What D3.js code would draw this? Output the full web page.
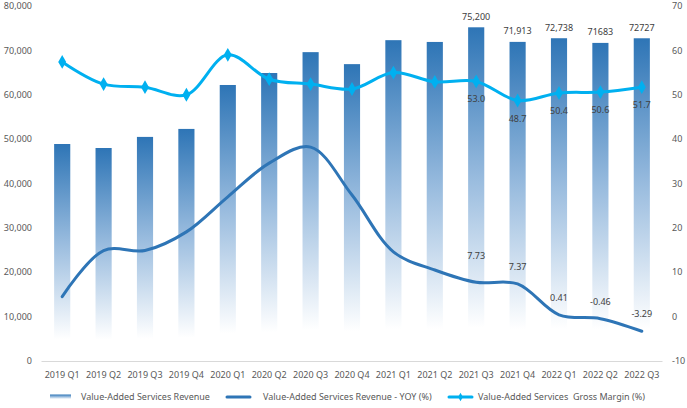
<!DOCTYPE html>
<html>
<head>
<meta charset="utf-8">
<script src="https://cdn.jsdelivr.net/npm/d3@7"></script>
<style>
  html, body { margin: 0; padding: 0; background: #fff; }
  svg { display: block; font-family: "Noto Sans", "Open Sans", sans-serif; }
</style>
</head>
<body>
<svg id="chart" width="687" height="408"></svg>
<script>
const categories = ["2019 Q1","2019 Q2","2019 Q3","2019 Q4","2020 Q1","2020 Q2","2020 Q3","2020 Q4","2021 Q1","2021 Q2","2021 Q3","2021 Q4","2022 Q1","2022 Q2","2022 Q3"];
const revenue = [48900, 48000, 50500, 52300, 62200, 64900, 69600, 66900, 72300, 71900, 75200, 71913, 72738, 71683, 72727];
const revenueLabels = ["", "", "", "", "", "", "", "", "", "", "75,200", "71,913", "72,738", "71683", "72727"];
const yoy = [4.5, 14.9, 14.9, 19.1, 27.0, 34.6, 38.2, 27.4, 14.6, 10.5, 7.73, 7.37, 0.41, -0.46, -3.29];
const yoyLabels = ["", "", "", "", "", "", "", "", "", "", "7.73", "7.37", "0.41", "-0.46", "-3.29"];
const grossMargin = [57.4, 52.4, 51.7, 50.0, 59.0, 53.5, 52.4, 51.3, 55.0, 52.9, 53.0, 48.7, 50.4, 50.6, 51.7];
const gmLabels = ["", "", "", "", "", "", "", "", "", "", "53.0", "48.7", "50.4", "50.6", "51.7"];
const leftTicks = [0, 10000, 20000, 30000, 40000, 50000, 60000, 70000, 80000];
const rightTicks = [-10, 0, 10, 20, 30, 40, 50, 60, 70];
const legendNames = ["Value-Added Services Revenue", "Value-Added Services Revenue - YOY (%)", "Value-Added Services  Gross Margin (%)"];

(function () {
const svg = d3.select("#chart");
const pLeft = 41.5, pRight = 662.5, pTop = 6, pBottom = 361;
const fontSize = 9;
const textColor = "#595959";
const labelColor = "#404040";
const barColor = "#2E75B6";
const gmColor = "#00B0F0";

const x = d3.scaleBand().domain(categories).range([pLeft, pRight]).paddingInner(0.61).paddingOuter(0.305);
const yL = d3.scaleLinear().domain([0, 80000]).range([pBottom, pTop]);
const yR = d3.scaleLinear().domain([-10, 70]).range([pBottom, pTop]);
const cx = c => x(c) + x.bandwidth() / 2;

const defs = svg.append("defs");
const grad = defs.append("linearGradient").attr("id", "barGrad").attr("x1", 0).attr("y1", 0).attr("x2", 0).attr("y2", 1);
grad.append("stop").attr("offset", "0%").attr("stop-color", barColor);
grad.append("stop").attr("offset", "45%").attr("stop-color", "#98BBDE");
grad.append("stop").attr("offset", "90%").attr("stop-color", "#ffffff");
grad.append("stop").attr("offset", "100%").attr("stop-color", "#ffffff");

// x-axis line
svg.append("line").attr("x1", pLeft).attr("x2", pRight).attr("y1", pBottom + 0.5).attr("y2", pBottom + 0.5)
  .attr("stroke", "#D9D9D9").attr("stroke-width", 1);

// left axis labels
const fmt = d3.format(",");
svg.append("g").selectAll("text").data(leftTicks).join("text")
  .attr("x", 32).attr("y", d => yL(d) + 3.2)
  .attr("text-anchor", "end").attr("font-size", fontSize).attr("fill", textColor)
  .text(d => fmt(d));

// right axis labels
svg.append("g").selectAll("text").data(rightTicks).join("text")
  .attr("x", 672).attr("y", d => yR(d) + 3.2)
  .attr("text-anchor", "start").attr("font-size", fontSize).attr("fill", textColor)
  .text(d => d);

// x labels
svg.append("g").selectAll("text").data(categories).join("text")
  .attr("x", d => cx(d)).attr("y", 377.5)
  .attr("text-anchor", "middle").attr("font-size", fontSize).attr("fill", textColor)
  .text(d => d);

// bars
svg.append("g").selectAll("rect").data(categories).join("rect")
  .attr("x", d => x(d)).attr("width", x.bandwidth())
  .attr("y", (d, i) => yL(revenue[i])).attr("height", (d, i) => pBottom - yL(revenue[i]))
  .attr("fill", "url(#barGrad)");

// bar labels
svg.append("g").selectAll("text").data(categories).join("text")
  .attr("x", d => cx(d)).attr("y", (d, i) => yL(revenue[i]) - 7.5)
  .attr("text-anchor", "middle").attr("font-size", fontSize).attr("fill", labelColor)
  .text((d, i) => revenueLabels[i]);

const curve = d3.curveCatmullRom.alpha(0.5);

// YOY line
const yoyLine = d3.line().x((d, i) => cx(categories[i])).y(d => yR(d)).curve(curve);
svg.append("path").datum(yoy).attr("d", yoyLine)
  .attr("fill", "none").attr("stroke", barColor).attr("stroke-width", 3).attr("stroke-linecap", "round");

// Gross margin line
const gmLine = d3.line().x((d, i) => cx(categories[i])).y(d => yR(d)).curve(curve);
svg.append("path").datum(grossMargin).attr("d", gmLine)
  .attr("fill", "none").attr("stroke", gmColor).attr("stroke-width", 3).attr("stroke-linecap", "round");

const diamond = d3.symbol().type(d3.symbolDiamond).size(55);
svg.append("g").selectAll("path").data(grossMargin).join("path")
  .attr("transform", (d, i) => `translate(${cx(categories[i])},${yR(d)})`)
  .attr("d", diamond).attr("fill", gmColor);

// YOY labels (above)
svg.append("g").selectAll("text").data(yoy).join("text")
  .attr("x", (d, i) => cx(categories[i]))
  .attr("y", (d, i) => yR(d) - (i === 10 ? 23 : 14))
  .attr("text-anchor", "middle").attr("font-size", fontSize).attr("fill", labelColor)
  .text((d, i) => yoyLabels[i]);

// GM labels (below)
svg.append("g").selectAll("text").data(grossMargin).join("text")
  .attr("x", (d, i) => cx(categories[i]))
  .attr("y", (d, i) => yR(d) + 21)
  .attr("text-anchor", "middle").attr("font-size", fontSize).attr("fill", labelColor)
  .text((d, i) => gmLabels[i]);

// legend
const lg = svg.append("g");
const ly = 397;
lg.append("rect").attr("x", 50).attr("y", ly - 2.5).attr("width", 21).attr("height", 5).attr("fill", "url(#barGrad)");
lg.append("text").attr("x", 81).attr("y", ly + 3.2).attr("font-size", fontSize).attr("fill", textColor).text(legendNames[0]);
lg.append("line").attr("x1", 227).attr("x2", 250).attr("y1", ly).attr("y2", ly)
  .attr("stroke", barColor).attr("stroke-width", 3).attr("stroke-linecap", "round");
lg.append("text").attr("x", 263).attr("y", ly + 3.2).attr("font-size", fontSize).attr("fill", textColor).text(legendNames[1]);
lg.append("line").attr("x1", 449).attr("x2", 472).attr("y1", ly).attr("y2", ly)
  .attr("stroke", gmColor).attr("stroke-width", 3).attr("stroke-linecap", "round");
lg.append("path").attr("transform", `translate(460.5,${ly})`).attr("d", d3.symbol().type(d3.symbolDiamond).size(20)).attr("fill", gmColor);
lg.append("text").attr("x", 478).attr("y", ly + 3.2).attr("font-size", fontSize).attr("fill", textColor)
  .style("white-space", "pre").text(legendNames[2]);
})();
</script>
</body>
</html>
